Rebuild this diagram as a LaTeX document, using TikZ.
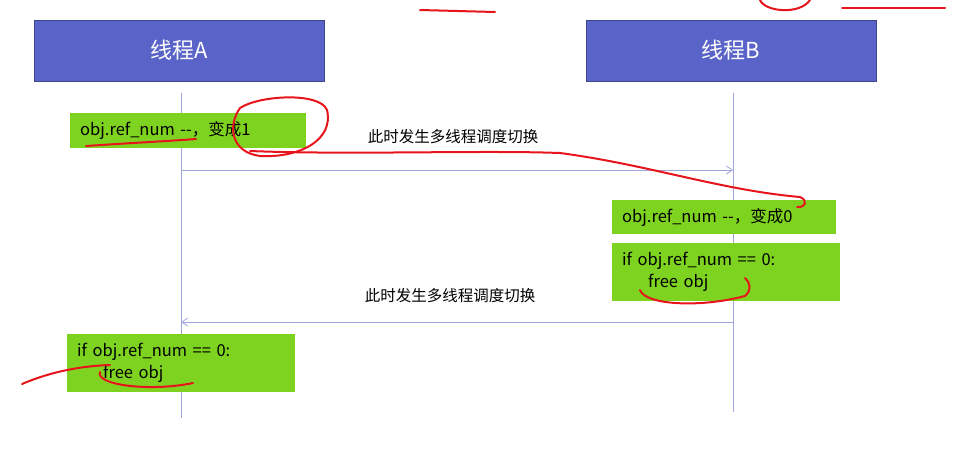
\documentclass[tikz,border=0pt]{standalone}
\usepackage{fontspec}
\setmainfont{Noto Sans CJK SC}
\usetikzlibrary{arrows.meta}
\definecolor{hdr}{HTML}{5A64C8}
\definecolor{grn}{HTML}{7ED321}
\definecolor{life}{HTML}{9EA6DD}
\definecolor{pen}{HTML}{E8141B}
\begin{document}
\begin{tikzpicture}[x=1pt,y=-1pt,
  hbox/.style={draw=hdr!70!black,fill=hdr,text=white,minimum width=290pt,minimum height=61pt,font=\fontsize{22}{26}\selectfont,inner sep=0},
  gbox/.style={fill=grn,anchor=north west,font=\fontsize{16.5}{22}\selectfont,inner xsep=10pt,inner ysep=0pt,align=left},
  lline/.style={draw=life,line width=0.8pt},
  msg/.style={draw=life,line width=0.8pt,-{Straight Barb[length=6pt,width=8pt]}},
  lab/.style={font=\fontsize{15.5}{18}\selectfont},
  red/.style={draw=pen,line width=2pt,line cap=round}]
\useasboundingbox (0,0) rectangle (962,456);
\node[hbox] (A) at (179,50.5) {线程A};
\node[hbox] (B) at (731,50.5) {线程B};
\coordinate (At) at (181,93); \coordinate (Ab) at (181,418);
\coordinate (Bt) at (733,93); \coordinate (Bb) at (733,412);
\draw[lline] (At) -- (Ab);
\draw[lline] (Bt) -- (Bb);
\node[gbox,text width=216pt,minimum height=35pt] (g1) at (70,113) {obj.ref\_num {-}{-}，变成1};
\node[gbox,text width=204pt,minimum height=34pt] (g2) at (612,200) {obj.ref\_num {-}{-}，变成0};
\node[gbox,text width=208pt,minimum height=58pt] (g3) at (612,243) {if obj.ref\_num == 0:\\\hspace{26pt}free obj};
\node[gbox,text width=208pt,minimum height=58pt] (g4) at (67,334) {if obj.ref\_num == 0:\\\hspace{26pt}free obj};
\coordinate (m1a) at (181,170); \coordinate (m1b) at (733,170);
\coordinate (m2a) at (733,322); \coordinate (m2b) at (181,322);
\draw[msg] (m1a) -- (m1b);
\draw[msg] (m2a) -- (m2b);
\node[lab] (l1) at (453,137) {此时发生多线程调度切换};
\node[lab] (l2) at (450,296) {此时发生多线程调度切换};
% red annotations
\draw[red] (86,146) .. controls (130,143) and (170,141) .. (196,139);
\draw[red] (240,108) .. controls (260,95) and (320,92) .. (327,110) .. controls (334,140) and (300,158) .. (260,156) .. controls (230,152) and (228,125) .. (240,108);
\draw[red] (250,151) .. controls (350,155) and (480,150) .. (560,153) .. controls (650,165) and (720,190) .. (800,197) .. controls (808,200) and (806,208) .. (797,207);
\draw[red] (640,290) .. controls (645,305) and (700,308) .. (745,296) .. controls (752,290) and (750,282) .. (745,278);
\draw[red] (22,384) .. controls (50,372) and (80,366) .. (110,365);
\draw[red] (100,372) .. controls (95,385) and (150,392) .. (193,383);
\draw[red] (420,10) -- (495,12);
\draw[red] (760,0) .. controls (765,12) and (800,15) .. (810,0);
\draw[red] (842,8) -- (945,8);
\end{tikzpicture}
\end{document}
